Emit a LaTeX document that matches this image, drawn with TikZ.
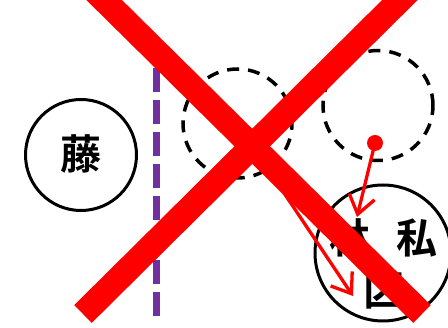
\documentclass[tikz,border=0pt]{standalone}
\usepackage{fontspec}
\newfontfamily\cjk{Noto Sans CJK JP}[BoldFont={Noto Sans CJK JP Bold}]
\usetikzlibrary{arrows.meta}
\definecolor{xred}{HTML}{FF0000}
\definecolor{vpurple}{HTML}{7030A0}
\tikzset{
  solidcirc/.style={circle, draw=black, line width=3pt, inner sep=0pt, minimum size=#1},
  dashcirc/.style={circle, draw=black, line width=3.5pt, dash pattern=on 12pt off 9pt, inner sep=0pt, minimum size=#1},
  kanji/.style={font=\cjk\bfseries\fontsize{41}{41}\selectfont, inner sep=0pt},
  redarrow/.style={draw=xred, line width=3.3pt, -{Straight Barb[length=18pt,width=26pt]}},
  crossbar/.style={draw=xred, line width=25pt},
  divider/.style={draw=vpurple, line width=7pt, dash pattern=on 24pt off 8pt}
}
\begin{document}
\begin{tikzpicture}[x=1pt,y=-1pt]
\useasboundingbox (0,0) rectangle (448,328);
% circles
\node[solidcirc=111pt] (fuji) at (81,155) {};
\node[kanji] (fujit) at (81,154) {藤};
\node[dashcirc=109pt] (c1) at (237.5,123.5) {};
\node[dashcirc=110pt] (c2) at (378,105.5) {};
\node[solidcirc=136pt] (c3) at (383,253) {};
\node[kanji] (t1) at (350,238) {林};
\node[kanji] (t2) at (417,238) {私};
\node[kanji] (t3) at (384,291) {区};
% divider
\coordinate (dtop) at (156,68);
\coordinate (dbot) at (156,316);
\draw[divider] (dtop) -- (dbot);
% dot and arrows
\node[circle, fill=xred, inner sep=0pt, minimum size=16pt] (dot) at (375,143) {};
\coordinate (tipA) at (357,217);
\coordinate (tipB) at (353,296);
\draw[redarrow] (dot.center) -- (tipA);
\draw[redarrow] (c1.center) -- (tipB);
% big cross
\coordinate (xa1) at (92,-12);
\coordinate (xa2) at (422,314);
\coordinate (xb1) at (412,-12);
\coordinate (xb2) at (83,314);
\draw[crossbar] (xa1) -- (xa2);
\draw[crossbar] (xb1) -- (xb2);
\end{tikzpicture}
\end{document}
